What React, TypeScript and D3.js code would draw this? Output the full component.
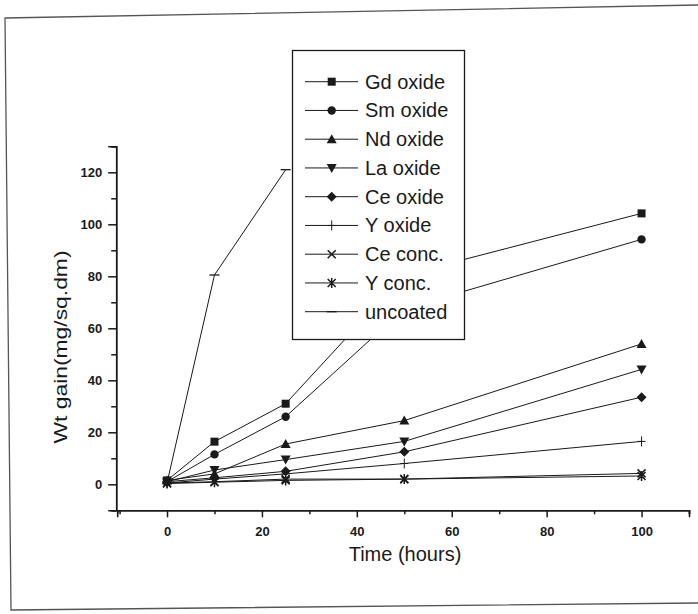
import React, { useEffect, useRef } from 'react';
import * as d3 from 'd3';

// time points (hours)
const hours = [0, 10, 25, 50, 100];

const gdOxide = [1.5, 16.4, 31, 80.5, 104.2];
const smOxide = [1, 11.5, 26, 67.5, 94.2];
const ndOxide = [1.5, 4, 15.5, 24.5, 54];
const laOxide = [1, 5.5, 9.5, 16.5, 44.2];
const ceOxide = [1, 2.5, 5, 12.5, 33.5];
const yOxide = [0.5, 2, 4, 8, 16.5];
const ceConc = [0.5, 1, 2, 2, 4.2];
const yConc = [0.3, 0.8, 1.5, 2, 3.2];
const uncoatedHours = [0, 10, 25];
const uncoated = [0.5, 80.5, 121];

const seriesNames = ['Gd oxide', 'Sm oxide', 'Nd oxide', 'La oxide', 'Ce oxide', 'Y oxide', 'Ce conc.', 'Y conc.', 'uncoated'];
const seriesMarkers = ['square', 'circle', 'triangle', 'triangleDown', 'diamond', 'plus', 'cross', 'asterisk', 'dash'];

const xMajorTicks = [0, 20, 40, 60, 80, 100];
const xMinorTicks = [-10, 10, 30, 50, 70, 90, 110];
const yMajorTicks = [0, 20, 40, 60, 80, 100, 120];
const yMinorTicks = [-10, 10, 30, 50, 70, 90, 110, 130];

const INK = '#1a1a1a';
const FONT = '"Liberation Sans", Arial, Helvetica, sans-serif';

// draws one marker centred on (cx, cy)
function drawMarker(g, type, cx, cy) {
    const m = g.append('g').attr('transform', `translate(${cx},${cy})`);
    if (type === 'square') {
        m.append('rect').attr('x', -4).attr('y', -4).attr('width', 8).attr('height', 8).attr('fill', INK);
    } else if (type === 'circle') {
        m.append('circle').attr('r', 4.2).attr('fill', INK);
    } else if (type === 'triangle') {
        m.append('path').attr('d', 'M0,-5L5,4L-5,4Z').attr('fill', INK);
    } else if (type === 'triangleDown') {
        m.append('path').attr('d', 'M0,5L5,-4L-5,-4Z').attr('fill', INK);
    } else if (type === 'diamond') {
        m.append('path').attr('d', 'M0,-5L5,0L0,5L-5,0Z').attr('fill', INK);
    } else if (type === 'plus') {
        m.append('path').attr('d', 'M0,-5V5M-4,0H4').attr('stroke', INK).attr('stroke-width', 1);
    } else if (type === 'cross') {
        m.append('path').attr('d', 'M-4,-4L4,4M-4,4L4,-4').attr('stroke', INK).attr('stroke-width', 1.5);
    } else if (type === 'asterisk') {
        m.append('path').attr('d', 'M-4,-4L4,4M-4,4L4,-4M0,-5V5').attr('stroke', INK).attr('stroke-width', 1.5);
    } else if (type === 'dash') {
        m.append('path').attr('d', 'M-5,0H5').attr('stroke', INK).attr('stroke-width', 1.3);
    }
}

const App = () => {
    const svgRef = useRef(null);

    useEffect(() => {
        const svg = d3.select(svgRef.current);
        svg.selectAll('*').remove();

        const x = d3.scaleLinear().domain([-10.5, 110]).range([117.2, 689]);
        const y = d3.scaleLinear().domain([-10, 130]).range([510.3, 146.3]);

        // scanned page frame
        svg.append('path')
            .attr('d', 'M698,5L5,18L11,610L698,603')
            .attr('fill', 'none')
            .attr('stroke', '#555')
            .attr('stroke-width', 1.3);

        // x axis
        const xAxisG = svg.append('g').attr('transform', `translate(0,${y(-10)})`);
        xAxisG.append('g').call(d3.axisBottom(x).tickValues(xMinorTicks).tickSize(4).tickFormat(() => ''));
        xAxisG.append('g').call(d3.axisBottom(x).tickValues(xMajorTicks).tickSize(7).tickPadding(9).tickFormat(d3.format('d')));
        xAxisG.selectAll('.domain').attr('stroke', INK).attr('stroke-width', 1.5);
        xAxisG.selectAll('line').attr('stroke', INK).attr('stroke-width', 1.5);
        xAxisG.selectAll('text')
            .attr('fill', INK)
            .style('font-family', FONT)
            .style('font-size', '13px')
            .style('font-weight', 'bold');

        // y axis
        const yAxisG = svg.append('g').attr('transform', `translate(${x(-10.5) - 1},0)`);
        yAxisG.append('g').call(d3.axisLeft(y).tickValues(yMinorTicks).tickSize(5).tickFormat(() => ''));
        yAxisG.append('g').call(d3.axisLeft(y).tickValues(yMajorTicks).tickSize(8).tickPadding(6).tickFormat(d3.format('d')));
        yAxisG.selectAll('.domain').attr('stroke', INK).attr('stroke-width', 1.5);
        yAxisG.selectAll('line').attr('stroke', INK).attr('stroke-width', 1.5);
        yAxisG.selectAll('text')
            .attr('fill', INK)
            .style('font-family', FONT)
            .style('font-size', '13px')
            .style('font-weight', 'bold');

        // axis titles
        svg.append('text')
            .attr('x', 405)
            .attr('y', 561)
            .attr('text-anchor', 'middle')
            .attr('fill', INK)
            .style('font-family', FONT)
            .style('font-size', '20px')
            .text('Time (hours)');

        svg.append('text')
            .attr('transform', 'translate(67,347) rotate(-90)')
            .attr('text-anchor', 'middle')
            .attr('fill', INK)
            .attr('textLength', 193)
            .attr('lengthAdjust', 'spacingAndGlyphs')
            .style('font-family', FONT)
            .style('font-size', '19px')
            .text('Wt gain(mg/sq.dm)');

        // series
        const allSeries = [
            { xs: hours, ys: gdOxide },
            { xs: hours, ys: smOxide },
            { xs: hours, ys: ndOxide },
            { xs: hours, ys: laOxide },
            { xs: hours, ys: ceOxide },
            { xs: hours, ys: yOxide },
            { xs: hours, ys: ceConc },
            { xs: hours, ys: yConc },
            { xs: uncoatedHours, ys: uncoated },
        ];

        const line = d3.line()
            .x(d => x(d[0]))
            .y(d => y(d[1]));

        const plot = svg.append('g');
        allSeries.forEach((s, i) => {
            const pts = s.xs.map((h, j) => [h, s.ys[j]]);
            plot.append('path')
                .datum(pts)
                .attr('fill', 'none')
                .attr('stroke', INK)
                .attr('stroke-width', 1)
                .attr('d', line);
            pts.forEach(p => drawMarker(plot, seriesMarkers[i], x(p[0]), y(p[1])));
        });

        // legend
        const legend = svg.append('g');
        legend.append('rect')
            .attr('x', 292.5)
            .attr('y', 50.5)
            .attr('width', 172)
            .attr('height', 289)
            .attr('fill', '#fff')
            .attr('stroke', INK)
            .attr('stroke-width', 1.3);

        seriesNames.forEach((name, i) => {
            const ry = 81.7 + i * 28.75;
            legend.append('line')
                .attr('x1', 305).attr('x2', 358)
                .attr('y1', ry).attr('y2', ry)
                .attr('stroke', INK)
                .attr('stroke-width', 1);
            drawMarker(legend, seriesMarkers[i], 331.7, ry);
            legend.append('text')
                .attr('x', 365)
                .attr('y', ry + 7)
                .attr('fill', INK)
                .style('font-family', FONT)
                .style('font-size', '20px')
                .text(name);
        });
    }, []);

    return (
        <div style={{ position: 'absolute', left: 0, top: 0, width: 698, height: 614, background: '#fff' }}>
            <svg ref={svgRef} width={698} height={614}></svg>
        </div>
    );
};

export default App;
